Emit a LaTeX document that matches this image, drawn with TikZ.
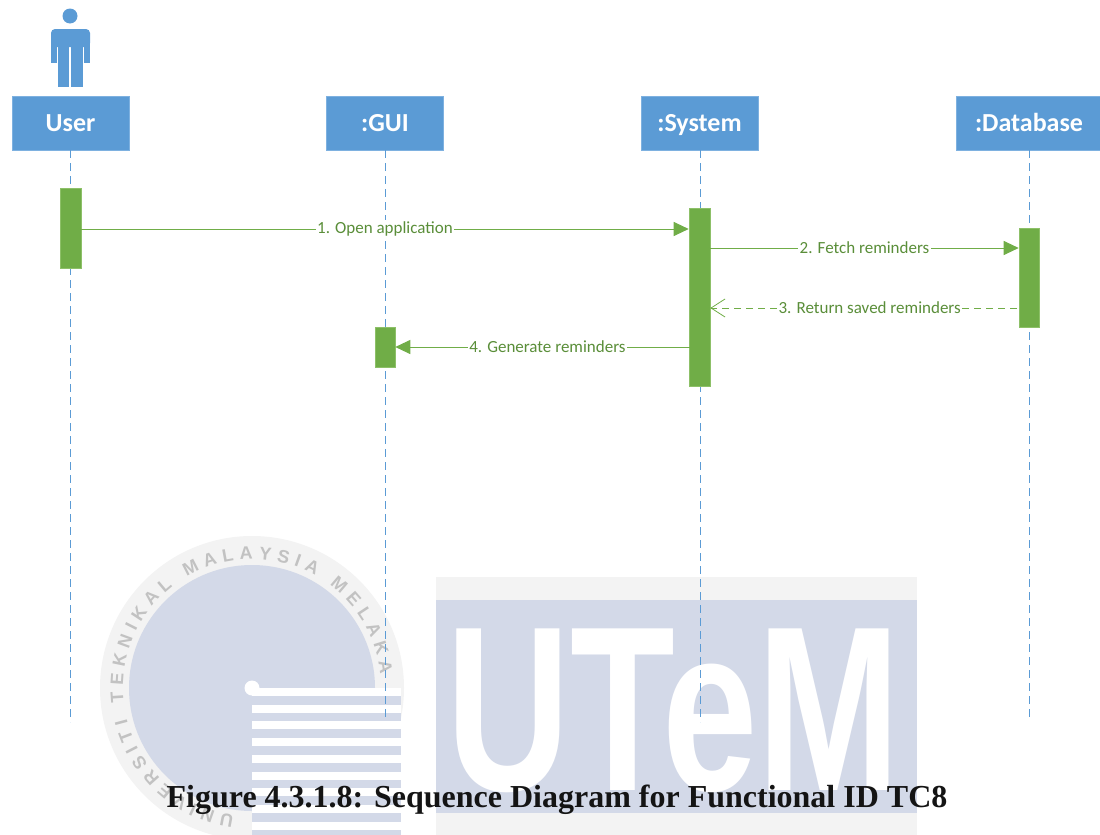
\documentclass[tikz,border=0pt]{standalone}
\usepackage{fontspec}
\setmainfont{Carlito}
\newfontfamily\timesf{Liberation Serif}
\newfontfamily\arialf{Liberation Sans}
\usetikzlibrary{arrows.meta,decorations.text,calc}
\definecolor{hdr}{HTML}{5B9BD5}
\definecolor{hdredge}{HTML}{7EB1E0}
\definecolor{actg}{HTML}{70AD47}
\definecolor{actedge}{HTML}{8DC068}
\definecolor{msgline}{HTML}{70AD47}
\definecolor{msgtext}{HTML}{5A8E39}
\definecolor{wmblue}{HTML}{D3D9E8}
\definecolor{wmlight}{HTML}{F3F3F3}
\definecolor{ringgray}{HTML}{C2C2C2}
\begin{document}
\begin{tikzpicture}[x=1pt,y=-1pt,
  header/.style={fill=hdr, draw=hdredge, line width=0.8pt, minimum height=54pt,
    text=white, font=\fontsize{26}{26}\selectfont\bfseries, inner sep=0pt,
    text height=17pt, text depth=0pt},
  lifeline/.style={draw=hdr, line width=0.9pt, dash pattern=on 8pt off 5pt},
  activation/.style={fill=actg, draw=actedge, line width=0.6pt, minimum width=21pt, inner sep=0pt},
  msg/.style={draw=msgline, line width=1pt, -{Triangle[length=15pt,width=14pt]}},
  reply/.style={draw=msgline, line width=1pt, dash pattern=on 7pt off 5pt,
    -{Straight Barb[length=14pt,width=18pt,line width=0.8pt]}},
  mlabel/.style={fill=white, inner sep=1.5pt, text=msgtext, font=\fontsize{17}{17}\selectfont},
  actor/.style={fill=hdr},
  wm/.style={fill=wmblue},
]
\useasboundingbox (0,0) rectangle (1100,835);

% ---------- watermark ----------
\coordinate (wc) at (252,688);
\fill[wmlight] (wc) circle[radius=152];
\fill[wm] (wc) circle[radius=123];
\path[decorate, decoration={text along path,
    text={|\arialf\bfseries\fontsize{18}{18}\selectfont\color{ringgray}|UNIVERSITI TEKNIKAL MALAYSIA MELAKA},
    text align=fit to path}]
  ($(wc)+(98:129)$) arc[start angle=98, end angle=354, radius=129];
\fill[white] (252,688) rectangle (401,835);
\foreach \i in {0,...,8} {
  \fill[wm] (252,{688+16.7*\i+8}) rectangle (401,{688+16.7*(\i+1)});
}
\fill[white] (wc) circle[radius=7.5];
\fill[wmlight] (436,577) rectangle (917,600);
\fill[wm] (436,600) rectangle (917,813);
\fill[wmlight] (436,813) rectangle (917,835);
\node[anchor=base west, inner sep=0pt, text=white] (utem) at (446,790)
  {\scalebox{0.73}[1]{\arialf\bfseries\fontsize{235}{235}\selectfont UTeM}};

% ---------- actor ----------
\fill[actor] (70,16) circle[radius=7.5];
\fill[actor, rounded corners=4pt] (51,47) -- (51,29) -- (90,29) -- (90,47) -- cycle;
\fill[actor] (51,40) rectangle (57.4,63);
\fill[actor] (83.6,40) rectangle (90,63);
\fill[actor] (58,40) rectangle (69.3,87);
\fill[actor] (70.7,40) rectangle (83,87);

% ---------- headers ----------
\node[header, minimum width=117pt] (user) at (70.5,123) {User};
\node[header, minimum width=117pt] (gui) at (385,123) {:GUI};
\node[header, minimum width=117pt] (sys) at (699.5,123) {:System};
\node[header, minimum width=146pt] (db) at (1029,123) {:Database};

% ---------- lifelines ----------
\coordinate (lend) at (0,722);
\draw[lifeline] (70,150) -- (70,722);
\draw[lifeline] (gui.south) -- (gui.south |- lend);
\draw[lifeline] (700,150) -- (700,722);
\draw[lifeline] (db.south) -- (db.south |- lend);

% ---------- activations ----------
\node[activation, minimum height=80pt] (uact) at (70.5,228) {};
\node[activation, minimum height=178pt] (sact) at (699.5,297) {};
\node[activation, minimum width=20pt, minimum height=99pt] (dact) at (1029,277.5) {};
\node[activation, minimum width=20pt, minimum height=40pt] (gact) at (385,347) {};

% ---------- messages ----------
\coordinate (m1) at (0,229);
\coordinate (m2) at (0,248);
\coordinate (m3) at (0,308);
\coordinate (m4) at (0,347);
\draw[msg] (uact.east |- m1) -- node[mlabel] {1. Open application} (sact.west |- m1);
\draw[msg] (sact.east |- m2) -- node[mlabel] {2. Fetch reminders} (dact.west |- m2);
\draw[reply] (dact.center |- m3) -- node[mlabel] {3. Return saved reminders} (sact.east |- m3);
\draw[msg] (sact.center |- m4) -- node[mlabel] {4. Generate reminders} (gact.east |- m4);

% ---------- caption ----------
\node[font=\timesf\bfseries\fontsize{32}{32}\selectfont, text=black!92, anchor=base, inner sep=0pt]
  (cap) at (557,807) {Figure 4.3.1.8: Sequence Diagram for Functional ID TC8};
\end{tikzpicture}
\end{document}
